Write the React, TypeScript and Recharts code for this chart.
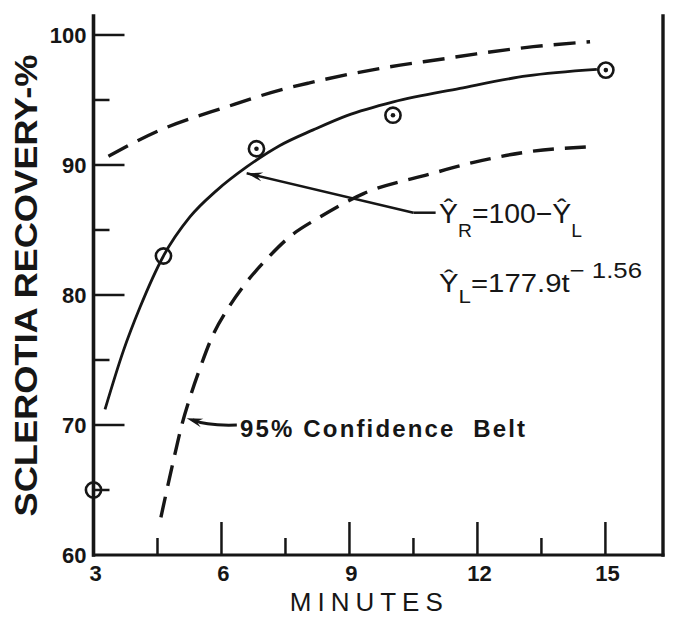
import {
  ComposedChart, Line, Scatter, XAxis, YAxis, ReferenceLine, ReferenceDot,
} from 'recharts';

const INK = '#161616';
const FONT = '"Liberation Sans", Arial, sans-serif';

// axis ticks (minutes / recovery %)
const xTicks = [3, 4.5, 6, 7.5, 9, 10.5, 12, 13.5, 15];
const xMajor = [3, 6, 9, 12, 15];
const yTicks = [60, 65, 70, 75, 80, 85, 90, 95, 100];

// observed recovery
const observed = [
  { t: 3, v: 65 },
  { t: 4.64, v: 83.0 },
  { t: 6.82, v: 91.25 },
  { t: 10.02, v: 93.83 },
  { t: 15.01, v: 97.3 },
];

// fitted curve Y_R = 100 - Y_L
const fitted = [
  { t: 3.27, v: 71.2 }, { t: 3.7, v: 75.7 }, { t: 4.09, v: 79.05 },
  { t: 4.64, v: 83.0 }, { t: 5.26, v: 86.0 }, { t: 5.89, v: 88.05 },
  { t: 6.59, v: 89.85 }, { t: 7.37, v: 91.5 }, { t: 8.15, v: 92.7 },
  { t: 8.94, v: 93.8 }, { t: 10.03, v: 94.86 }, { t: 11.59, v: 95.9 },
  { t: 13.16, v: 96.85 }, { t: 14.8, v: 97.35 },
];

// 95% confidence belt
const upperBelt = [
  { t: 3.35, v: 90.67 }, { t: 4.56, v: 92.68 }, { t: 6.12, v: 94.47 },
  { t: 7.37, v: 95.76 }, { t: 8.04, v: 96.3 }, { t: 9.72, v: 97.43 },
  { t: 11.28, v: 98.2 }, { t: 11.98, v: 98.55 }, { t: 13.31, v: 99.1 },
  { t: 14.64, v: 99.48 },
];
const lowerBelt = [
  { t: 4.58, v: 62.9 }, { t: 4.87, v: 67.2 }, { t: 5.07, v: 70.0 },
  { t: 5.26, v: 72.1 }, { t: 5.5, v: 74.4 }, { t: 5.77, v: 76.7 },
  { t: 6.16, v: 79.0 }, { t: 6.59, v: 81.0 }, { t: 7.1, v: 82.9 },
  { t: 7.57, v: 84.4 }, { t: 8.31, v: 86.0 }, { t: 9.33, v: 87.8 },
  { t: 10.89, v: 89.3 }, { t: 11.91, v: 90.2 }, { t: 13.16, v: 91.0 },
  { t: 14.64, v: 91.4 },
];

// annotation anchors (data coords)
const fitArrowTip = { x: 6.59, y: 89.36 };
const fitArrowElbow = { x: 10.5, y: 86.33 };
const fitArrowEnd = { x: 11.02, y: 86.33 };
const beltArrowTip = { x: 5.185, y: 70.51 };
const beltArrowTail = { x: 6.36, y: 70.0 };

const arrowHead = (tx: number, ty: number, fx: number, fy: number) => {
  const a = Math.atan2(ty - fy, tx - fx);
  const L = 16, W = 4.5;
  const bx = tx - L * Math.cos(a), by = ty - L * Math.sin(a);
  const nx = -Math.sin(a) * W, ny = Math.cos(a) * W;
  return `M${tx},${ty} L${bx + nx},${by + ny} L${bx + 0.35 * (tx - bx)},${by + 0.35 * (ty - by)} L${bx - nx},${by - ny} Z`;
};

const ArrowLine = (p: any) => (
  <g>
    <line x1={p.x1} y1={p.y1} x2={p.x2} y2={p.y2} stroke={INK} strokeWidth={2.5} />
    <path d={arrowHead(p.x1, p.y1, p.x2, p.y2)} fill={INK} />
  </g>
);

const CurvedArrow = (p: any) => {
  const cx = p.x1 + (p.x2 - p.x1) * 0.4;
  const cy = p.y2 + 1;
  return (
    <g>
      <path d={`M${p.x2},${p.y2} Q${cx},${cy} ${p.x1 + 6},${p.y1 + 1.5}`} fill="none" stroke={INK} strokeWidth={3} />
      <path d={arrowHead(p.x1, p.y1, cx, cy - 1.5)} fill={INK} />
    </g>
  );
};

const Ring = (p: any) => (
  <g>
    <circle cx={p.cx} cy={p.cy} r={7.6} fill="none" stroke={INK} strokeWidth={2.6} />
    {p.payload && p.payload.t > 6 && <circle cx={p.cx} cy={p.cy} r={2.3} fill={INK} />}
  </g>
);

const LeftTick = (p: any) => {
  const v = p.payload.value;
  const major = v % 10 === 0;
  return (
    <g>
      {v > 60 && (
        <line x1={p.x} x2={p.x + (major ? 31 : 16)} y1={p.y} y2={p.y} stroke={INK} strokeWidth={2.5} />
      )}
      {major && (
        <text x={p.x - 7} y={p.y + 8} textAnchor="end" fontFamily={FONT} fontWeight="bold" fontSize={22} fill={INK}>
          {v}
        </text>
      )}
    </g>
  );
};

const RightTick = (p: any) => {
  const v = p.payload.value;
  if (v <= 60) return <g />;
  const len = v % 10 === 0 ? 30 : 17;
  return <line x1={p.x - len} x2={p.x} y1={p.y} y2={p.y} stroke={INK} strokeWidth={2.5} />;
};

const BottomTick = (p: any) => {
  const v = p.payload.value;
  const major = xMajor.includes(v);
  return (
    <g>
      {v > 3 && (
        <line x1={p.x} x2={p.x} y1={p.y} y2={p.y - (major ? 33 : 17)} stroke={INK} strokeWidth={2.5} />
      )}
      {major && (
        <text x={p.x + 2} y={p.y + 26} textAnchor="middle" fontFamily={FONT} fontWeight="bold" fontSize={22} fill={INK}>
          {v}
        </text>
      )}
    </g>
  );
};

const YTitle = (p: any) => {
  const vb = p.viewBox || { y: 16, height: 539 };
  const cy = vb.y + vb.height / 2;
  return (
    <text transform={`translate(37, ${cy}) rotate(-90)`} textAnchor="middle" fontFamily={FONT}
      fontWeight="bold" fontSize={31} fill={INK} textLength={462} lengthAdjust="spacingAndGlyphs">
      SCLEROTIA RECOVERY-%
    </text>
  );
};

const XTitle = (p: any) => {
  const vb = p.viewBox || { x: 93.5, y: 555, width: 569.5 };
  return (
    <text x={vb.x + vb.width / 2 - 12} y={vb.y + 56} textAnchor="middle" fontFamily={FONT}
      fontSize={26} fill={INK} textLength={153} lengthAdjust="spacing">
      MINUTES
    </text>
  );
};

const FitLabel = (p: any) => {
  const vb = p.viewBox;
  return (
    <text x={vb.x} y={vb.y} fontFamily={FONT} fontSize={28} fill={INK} textLength={143} lengthAdjust="spacingAndGlyphs">
      Ŷ<tspan fontSize={19} dy={14}>R</tspan>
      <tspan dy={-14}>=100−Ŷ</tspan>
      <tspan fontSize={19} dy={14}>L</tspan>
    </text>
  );
};

const ModelLabel = (p: any) => {
  const vb = p.viewBox;
  return (
    <text x={vb.x} y={vb.y} fontFamily={FONT} fontSize={25} fill={INK} textLength={203} lengthAdjust="spacingAndGlyphs">
      Ŷ<tspan fontSize={19} dy={11}>L</tspan>
      <tspan dy={-11}>=177.9t</tspan>
      <tspan fontSize={22} dy={-14}>− 1.56</tspan>
    </text>
  );
};

const BeltLabel = (p: any) => {
  const vb = p.viewBox;
  return (
    <text x={vb.x} y={vb.y} fontFamily={FONT} fontWeight="bold" fontSize={24} fill={INK}
      textLength={285} lengthAdjust="spacing" style={{ whiteSpace: 'pre' }}>
      95% Confidence  Belt
    </text>
  );
};

const NoDot = () => <g />;

export default function App() {
  return (
    <div style={{ position: 'absolute', left: 0, top: 0, background: '#fff' }}>
      <ComposedChart width={673} height={617} margin={{ top: 16, right: 0, bottom: 22, left: 0 }}>
        <XAxis
          dataKey="t" type="number" domain={[3, 16.35]} ticks={xTicks} interval={0}
          height={40} tickLine={false} tickSize={0} tickMargin={0} tick={<BottomTick />}
          axisLine={{ stroke: INK, strokeWidth: 3, strokeLinecap: 'square' }}
          label={XTitle}
        />
        <XAxis
          xAxisId="top" orientation="top" type="number" domain={[3, 16.35]} height={0}
          tick={false} tickLine={false} axisLine={{ stroke: INK, strokeWidth: 2.6, strokeLinecap: 'square' }}
        />
        <YAxis
          dataKey="v" type="number" domain={[60, 101.46]} ticks={yTicks} interval={0}
          width={93.5} tickLine={false} tickSize={0} tickMargin={0} tick={<LeftTick />}
          axisLine={{ stroke: INK, strokeWidth: 3.6, strokeLinecap: 'square' }}
          label={YTitle}
        />
        <YAxis
          yAxisId="right" orientation="right" type="number" domain={[60, 101.46]} ticks={yTicks}
          interval={0} width={10} tickLine={false} tickSize={0} tickMargin={0} tick={<RightTick />}
          axisLine={{ stroke: INK, strokeWidth: 3.4, strokeLinecap: 'square' }}
        />

        <Line data={upperBelt} dataKey="v" type="monotone" dot={false} stroke={INK}
          strokeWidth={3.4} strokeDasharray="22 11" isAnimationActive={false} />
        <Line data={lowerBelt} dataKey="v" type="monotone" dot={false} stroke={INK}
          strokeWidth={3.4} strokeDasharray="21 11" isAnimationActive={false} />
        <Line data={fitted} dataKey="v" type="monotone" dot={false} stroke={INK}
          strokeWidth={2.8} isAnimationActive={false} />
        <Scatter data={observed} dataKey="v" shape={Ring} isAnimationActive={false} />

        <ReferenceLine segment={[fitArrowTip, fitArrowElbow]} shape={ArrowLine} />
        <ReferenceLine segment={[fitArrowElbow, fitArrowEnd]} stroke={INK} strokeWidth={2.5} />
        <ReferenceLine segment={[beltArrowTip, beltArrowTail]} shape={CurvedArrow} />

        <ReferenceDot x={11.1} y={85.54} r={0} shape={NoDot} label={FitLabel} />
        <ReferenceDot x={11.1} y={80.23} r={0} shape={NoDot} label={ModelLabel} />
        <ReferenceDot x={6.435} y={69.08} r={0} shape={NoDot} label={BeltLabel} />
      </ComposedChart>
    </div>
  );
}
